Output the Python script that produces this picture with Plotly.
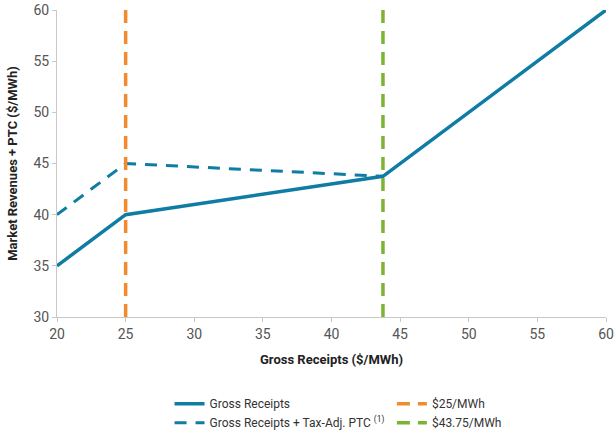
import plotly.graph_objects as go

# Revenue curves ($/MWh)
gross_x = [20, 25, 43.75, 60]
gross_y = [35, 40, 43.75, 60]
ptc_x = [20, 25, 43.75]
ptc_y = [40, 45, 43.75]

# Threshold markers
floor_price = 25
cap_price = 43.75
y_range = [30, 60]

blue = "#0F7CA3"
orange = "#F38A2E"
green = "#7DB335"
font = "Roboto, Arial, sans-serif"

fig = go.Figure()
fig.add_trace(go.Scatter(x=gross_x, y=gross_y, mode="lines", name="Gross Receipts",
                         legend="legend", line=dict(color=blue, width=3.5)))
fig.add_trace(go.Scatter(x=ptc_x, y=ptc_y, mode="lines",
                         name="Gross Receipts + Tax-Adj. PTC <sup>(1)</sup>",
                         legend="legend", line=dict(color=blue, width=3, dash="12px,9px")))
fig.add_trace(go.Scatter(x=[floor_price, floor_price], y=y_range, mode="lines", name="$25/MWh",
                         legend="legend2", line=dict(color=orange, width=3.5, dash="13px,8px")))
fig.add_trace(go.Scatter(x=[cap_price, cap_price], y=y_range, mode="lines", name="$43.75/MWh",
                         legend="legend2", line=dict(color=green, width=3.5, dash="13px,8px")))

axis_common = dict(showgrid=False, zeroline=False, showline=True, linecolor="#C8C8C8",
                   linewidth=1, ticks="outside", tickcolor="#C8C8C8", ticklen=4,
                   tickfont=dict(family=font, size=14, color="#555555"))

fig.update_xaxes(range=[20, 60], dtick=5,
                 title=dict(text="<b>Gross Receipts ($/MWh)</b>", standoff=14,
                            font=dict(family=font, size=13, color="#222222")),
                 **axis_common)
fig.update_yaxes(range=y_range, dtick=5,
                 title=dict(text="<b>Market Revenues + PTC ($/MWh)</b>", standoff=12,
                            font=dict(family=font, size=13, color="#222222")),
                 **axis_common)

legend_common = dict(orientation="v", yanchor="top", y=-0.235, tracegroupgap=0,
                     font=dict(family=font, size=12, color="#333333"),
                     bgcolor="rgba(0,0,0,0)", borderwidth=0)

fig.update_layout(
    width=616, height=432,
    margin=dict(l=57, r=10, t=10, b=115, autoexpand=False),
    paper_bgcolor="white", plot_bgcolor="white",
    font=dict(family=font, color="#333333"),
    legend=dict(x=0.205, xanchor="left", **legend_common),
    legend2=dict(x=0.61, xanchor="left", **legend_common),
    showlegend=True,
)

fig.write_html("out.html")
